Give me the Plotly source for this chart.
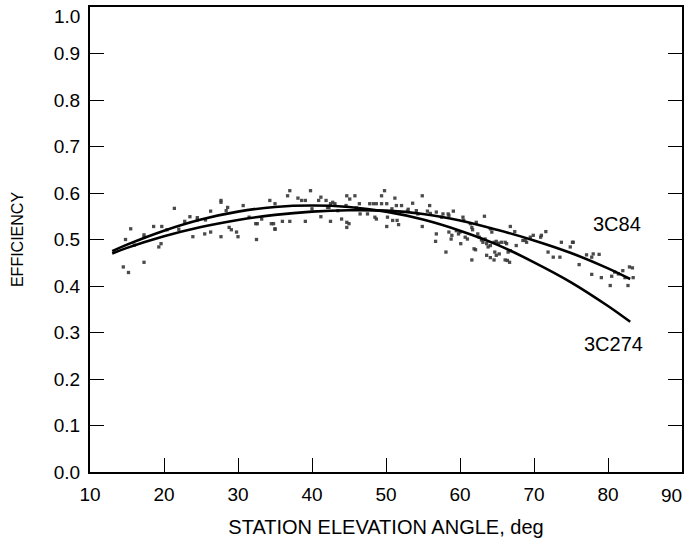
import plotly.graph_objects as go

# Fitted curves
curve_x = [13, 15, 20, 25, 30, 35, 40, 45, 50, 55, 60, 65, 70, 75, 80, 83]
eff_3c84 = [0.470, 0.482, 0.507, 0.527, 0.542, 0.553, 0.560, 0.563, 0.562, 0.555,
            0.541, 0.521, 0.498, 0.471, 0.438, 0.415]
eff_3c274 = [0.475, 0.489, 0.519, 0.543, 0.560, 0.570, 0.573, 0.570, 0.560, 0.543,
             0.519, 0.489, 0.451, 0.408, 0.357, 0.323]

pts_x = [15.5, 14.8, 14.5, 15.2, 17.3, 17.3, 17.3, 18.6, 19.7, 21.4, 20.4, 19.3, 19.6,
         22.8, 23.5, 24.5, 24.5, 23.9, 25.5, 26.3, 25.6, 27.7, 26.3, 27.7, 28.4, 28.6,
         28.8, 29.1, 29.8, 30.0, 27.7, 35.0, 34.5,
         30.7, 32.5, 32.4, 32.6, 33.2, 34.3, 35.0, 34.8, 35.0, 36.0, 37.0, 36.7, 37.0,
         38.1, 38.6, 39.1, 39.1, 39.8, 40.9, 41.2, 41.2, 41.9, 42.5, 42.8, 43.1, 42.5,
         42.1, 42.3, 44.0, 44.6, 44.7, 45.1, 45.8, 44.7, 45.0, 44.7, 46.4, 46.5, 47.5,
         47.8, 48.3, 48.7, 48.5, 48.7, 49.4, 49.8, 49.4, 50.1, 50.1, 50.2,
         51.2, 50.8, 51.4, 52.1, 50.9, 51.5, 51.7, 52.9, 53.6, 54.9, 54.1, 54.3, 54.9,
         55.6, 55.9, 56.8, 56.8, 56.7, 57.7, 58.4, 58.5, 58.1, 58.5, 58.9, 58.8, 59.1,
         59.5, 60.0, 59.8, 60.1, 60.4, 60.5, 60.7, 61.0, 61.4, 61.6, 61.7, 61.6, 61.9,
         62.1, 62.2, 62.4, 62.6, 63.3, 62.9, 63.4, 63.1, 63.6, 63.8, 64.1, 63.6, 64.1,
         64.1, 64.3, 64.6, 64.9, 65.2, 64.7, 64.9, 65.3, 64.6, 65.6, 66.1, 66.3, 66.1,
         66.4, 66.7, 66.5, 66.8, 66.8, 67.4, 67.6, 68.5, 69.0, 69.5, 68.8, 70.9,
         71.6, 71.0, 69.9, 71.9, 72.6, 73.5, 73.7, 75.2, 74.9, 76.1, 77.1, 77.8, 78.8,
         77.8, 79.1, 80.5, 80.3, 80.9, 81.4, 82.0, 82.9, 83.3, 82.7, 83.4, 82.3, 75.3,
         78.0, 53.0, 56.0, 57.5, 46.0, 43.5, 40.0, 31.5, 22.0, 16.0]
pts_y = [0.523, 0.500, 0.441, 0.429, 0.451, 0.510, 0.505, 0.528, 0.528, 0.567, 0.521,
         0.484, 0.491, 0.539, 0.549, 0.547, 0.542, 0.506, 0.512, 0.561, 0.542, 0.506,
         0.516, 0.580, 0.562, 0.569, 0.526, 0.521, 0.516, 0.506, 0.584, 0.523, 0.534,
         0.573, 0.500, 0.534, 0.534, 0.544, 0.584, 0.577, 0.534, 0.522, 0.539, 0.539,
         0.594, 0.605, 0.589, 0.584, 0.584, 0.539, 0.605, 0.584, 0.591, 0.549, 0.584,
         0.577, 0.580, 0.577, 0.539, 0.569, 0.569, 0.544, 0.573, 0.594, 0.587, 0.594,
         0.537, 0.534, 0.526, 0.577, 0.555, 0.555, 0.577, 0.577, 0.577, 0.548, 0.544,
         0.594, 0.605, 0.577, 0.577, 0.528, 0.548,
         0.589, 0.566, 0.573, 0.573, 0.541, 0.541, 0.532, 0.561, 0.578, 0.594, 0.562,
         0.555, 0.528, 0.561, 0.573, 0.559, 0.512, 0.496, 0.555, 0.555, 0.552, 0.473,
         0.516, 0.509, 0.501, 0.561, 0.519, 0.516, 0.512, 0.491, 0.548, 0.541, 0.505,
         0.501, 0.534, 0.526, 0.521, 0.456, 0.480, 0.478, 0.537, 0.512, 0.505, 0.550,
         0.499, 0.501, 0.494, 0.491, 0.484, 0.487, 0.466, 0.461, 0.523, 0.516, 0.494,
         0.496, 0.492, 0.473, 0.466, 0.469, 0.456, 0.494, 0.494, 0.491, 0.456, 0.455,
         0.451, 0.473, 0.476, 0.528, 0.517, 0.487, 0.498, 0.494, 0.505, 0.498, 0.505,
         0.517, 0.509, 0.509, 0.473, 0.462, 0.462, 0.494, 0.494, 0.484, 0.446, 0.467,
         0.462, 0.468, 0.425, 0.418, 0.421, 0.401, 0.430, 0.426, 0.433, 0.441, 0.439,
         0.401, 0.418, 0.418, 0.494, 0.469, 0.565, 0.556, 0.548, 0.568, 0.562, 0.566,
         0.548, 0.522, 0.488]

x_ticks = [10, 20, 30, 40, 50, 60, 70, 80, 90]
x_ticklabels = ["10", "20", "30", "40", "50", "60", "70", "80", ""]
y_ticks = [0.0, 0.1, 0.2, 0.3, 0.4, 0.5, 0.6, 0.7, 0.8, 0.9, 1.0]
y_ticklabels = ["0.0", "0.1", "0.2", "0.3", "0.4", "0.5", "0.6", "0.7", "0.8", "0.9", ""]

FONT = "Liberation Sans, Arial, sans-serif"
TICKSIZE = 19

fig = go.Figure()
fig.add_trace(go.Scatter(x=pts_x, y=pts_y, mode="markers",
                         marker=dict(size=3.3, color="rgba(55,55,55,0.9)", symbol="square",
                                     line=dict(width=0)),
                         showlegend=False, hoverinfo="skip"))
fig.add_trace(go.Scatter(x=curve_x, y=eff_3c84, mode="lines", line_shape="spline",
                         line=dict(color="black", width=2.6), name="3C84", showlegend=False))
fig.add_trace(go.Scatter(x=curve_x, y=eff_3c274, mode="lines", line_shape="spline",
                         line=dict(color="black", width=2.6), name="3C274", showlegend=False))

fig.add_annotation(x=81.2, y=0.534, text="3C84", showarrow=False,
                   font=dict(family=FONT, size=20, color="black"))
fig.add_annotation(x=80.7, y=0.275, text="3C274", showarrow=False,
                   font=dict(family=FONT, size=20, color="black"))
# end tick labels, kept inside the page as in the reference
fig.add_annotation(x=90, y=0, yref="y", xref="x", text="90", showarrow=False,
                   xanchor="right", yanchor="top", xshift=2, yshift=-11,
                   font=dict(family=FONT, size=TICKSIZE, color="black"))
fig.add_annotation(x=10, y=1.0, xref="x", yref="y", text="1.0", showarrow=False,
                   xanchor="right", yanchor="middle", xshift=-8, yshift=-9,
                   font=dict(family=FONT, size=TICKSIZE, color="black"))

fig.update_layout(
    width=685, height=544,
    margin=dict(l=90, r=3, t=7, b=72),
    plot_bgcolor="white", paper_bgcolor="white",
    font=dict(family=FONT, size=TICKSIZE, color="black"),
)
fig.update_xaxes(range=[10, 90], tickvals=x_ticks, ticktext=x_ticklabels,
                 ticks="inside", ticklen=14, tickwidth=1.3, tickcolor="black",
                 showline=True, linecolor="black", linewidth=2, mirror=True,
                 showgrid=False, zeroline=False, ticklabelstandoff=4, automargin=False,
                 title=dict(text="STATION ELEVATION ANGLE, deg", standoff=16,
                            font=dict(size=20)))
fig.update_yaxes(range=[0, 1.0], tickvals=y_ticks, ticktext=y_ticklabels,
                 ticks="inside", ticklen=14, tickwidth=1.3, tickcolor="black",
                 showline=True, linecolor="black", linewidth=2, mirror="ticks",
                 showgrid=False, zeroline=False, ticklabelstandoff=4, automargin=False,
                 title=dict(text="EFFICIENCY", standoff=26, font=dict(size=16)))

fig.write_html("out.html", config={"displayModeBar": False},
               post_script="document.body.style.margin='0';document.body.style.overflow='hidden';")
